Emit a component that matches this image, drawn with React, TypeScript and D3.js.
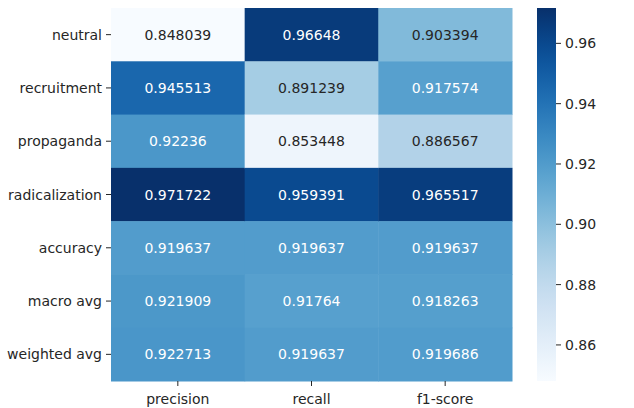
import React from "react";
import * as d3 from "d3";

const rowLabels = ["neutral", "recruitment", "propaganda", "radicalization", "accuracy", "macro avg", "weighted avg"];
const colLabels = ["precision", "recall", "f1-score"];
const precision = [0.848039, 0.945513, 0.92236, 0.971722, 0.919637, 0.921909, 0.922713];
const recall = [0.96648, 0.891239, 0.853448, 0.959391, 0.919637, 0.91764, 0.919637];
const f1Score = [0.903394, 0.917574, 0.886567, 0.965517, 0.919637, 0.918263, 0.919686];
const colorbarTicks = [0.86, 0.88, 0.9, 0.92, 0.94, 0.96];

const columns = [precision, recall, f1Score];

const W = 634;
const H = 408;
const plot = { left: 111, right: 512, top: 8, bottom: 381 };
const cbar = { left: 537, right: 556 };
const FONT = "'DejaVu Sans', sans-serif";
const FS = 14;

function luminance(c: string) {
  const rgb = d3.rgb(c);
  const ch = [rgb.r, rgb.g, rgb.b].map((v) => {
    const s = v / 255;
    return s <= 0.03928 ? s / 12.92 : Math.pow((s + 0.055) / 1.055, 2.4);
  });
  return 0.2126 * ch[0] + 0.7152 * ch[1] + 0.0722 * ch[2];
}

export default function App() {
  const all = columns.flat();
  const vmin = d3.min(all) as number;
  const vmax = d3.max(all) as number;
  const color = d3.scaleSequential(d3.interpolateBlues).domain([vmin, vmax]);

  const x = d3.scaleBand<string>().domain(colLabels).range([plot.left, plot.right]);
  const y = d3.scaleBand<string>().domain(rowLabels).range([plot.top, plot.bottom]);
  const cy = d3.scaleLinear().domain([vmin, vmax]).range([plot.bottom, plot.top]);

  const gradStops = d3.range(0, 1.0001, 0.05);

  return (
    <svg width={W} height={H} style={{ position: "absolute", left: 0, top: 0, background: "#fff" }}>
      <defs>
        <linearGradient id="cbgrad" x1="0" y1="1" x2="0" y2="0">
          {gradStops.map((t) => (
            <stop key={t} offset={t} stopColor={d3.interpolateBlues(t)} />
          ))}
        </linearGradient>
      </defs>

      {/* heatmap cells */}
      {colLabels.map((c, ci) =>
        rowLabels.map((r, ri) => {
          const v = columns[ci][ri];
          const fill = color(v);
          const txt = luminance(fill) > 0.408 ? "#262626" : "#ffffff";
          return (
            <g key={c + r}>
              <rect
                x={x(c)}
                y={y(r)}
                width={x.bandwidth() + 0.5}
                height={y.bandwidth() + 0.5}
                fill={fill}
              />
              <text
                x={(x(c) as number) + x.bandwidth() / 2}
                y={(y(r) as number) + y.bandwidth() / 2}
                textAnchor="middle"
                dominantBaseline="central"
                fontFamily={FONT}
                fontSize={FS}
                fill={txt}
              >
                {String(v)}
              </text>
            </g>
          );
        })
      )}

      {/* y axis */}
      {rowLabels.map((r) => {
        const yy = (y(r) as number) + y.bandwidth() / 2;
        return (
          <g key={r}>
            <line x1={plot.left - 5} x2={plot.left} y1={yy} y2={yy} stroke="#262626" strokeWidth={1} />
            <text
              x={plot.left - 9}
              y={yy}
              textAnchor="end"
              dominantBaseline="central"
              fontFamily={FONT}
              fontSize={FS}
              fill="#262626"
            >
              {r}
            </text>
          </g>
        );
      })}

      {/* x axis */}
      {colLabels.map((c) => {
        const xx = (x(c) as number) + x.bandwidth() / 2;
        return (
          <g key={c}>
            <line x1={xx} x2={xx} y1={plot.bottom} y2={plot.bottom + 5} stroke="#262626" strokeWidth={1} />
            <text
              x={xx}
              y={plot.bottom + 18}
              textAnchor="middle"
              dominantBaseline="central"
              fontFamily={FONT}
              fontSize={FS}
              fill="#262626"
            >
              {c}
            </text>
          </g>
        );
      })}

      {/* colorbar */}
      <rect
        x={cbar.left}
        y={plot.top}
        width={cbar.right - cbar.left}
        height={plot.bottom - plot.top}
        fill="url(#cbgrad)"
      />
      {colorbarTicks.map((t) => (
        <g key={t}>
          <line x1={cbar.right} x2={cbar.right + 5} y1={cy(t)} y2={cy(t)} stroke="#262626" strokeWidth={1} />
          <text
            x={cbar.right + 9}
            y={cy(t)}
            dominantBaseline="central"
            fontFamily={FONT}
            fontSize={FS}
            fill="#262626"
          >
            {t.toFixed(2)}
          </text>
        </g>
      ))}
    </svg>
  );
}
